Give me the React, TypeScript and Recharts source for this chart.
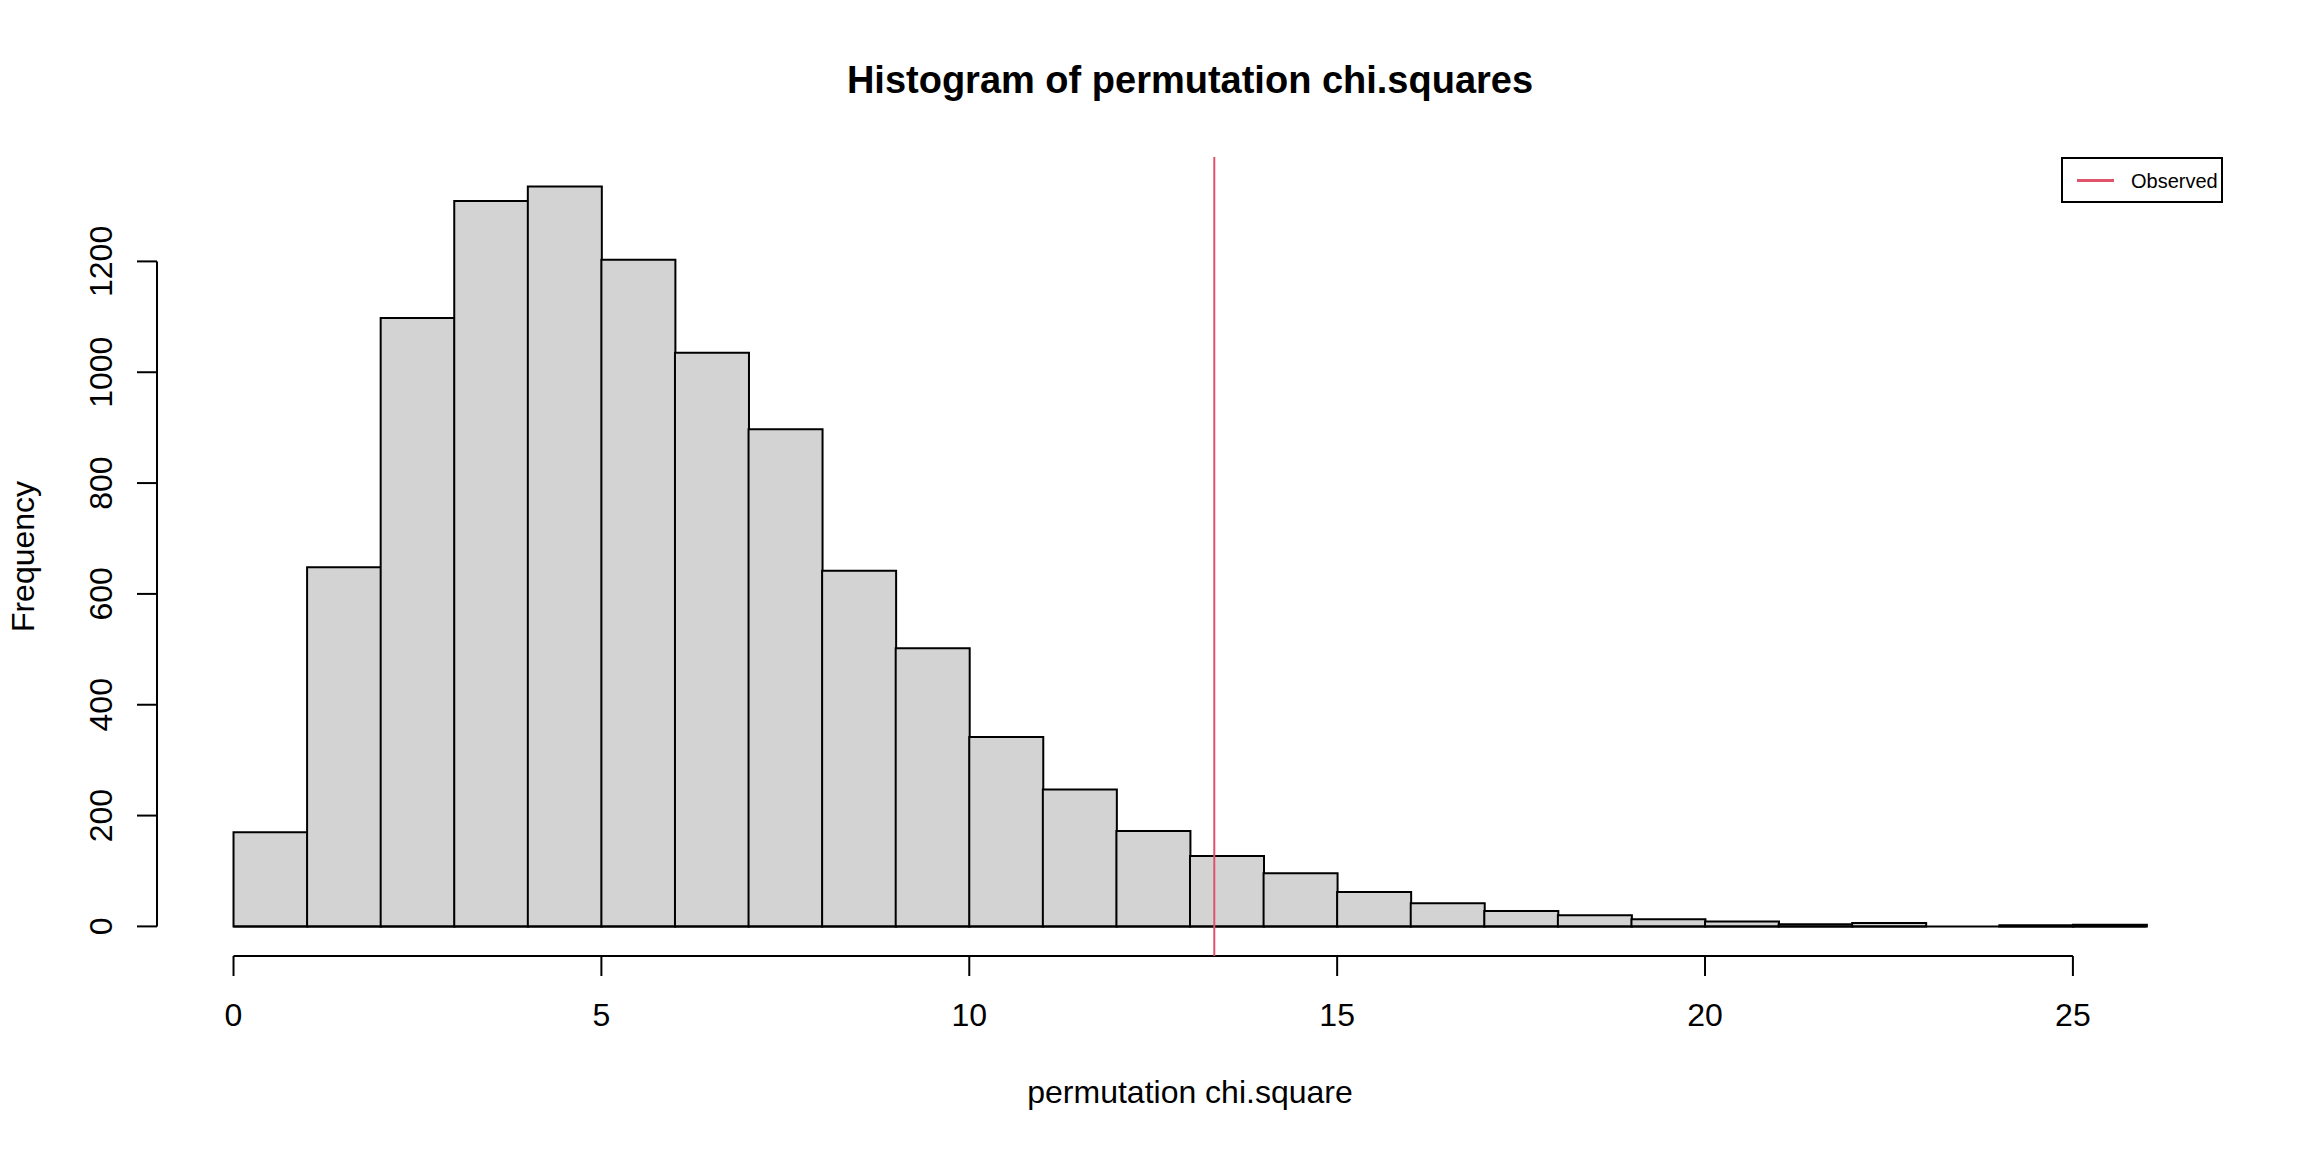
import React from "react";
import { ComposedChart, Bar, XAxis, YAxis, ReferenceLine, Label } from "recharts";

// histogram bins (edges) and counts
const binEdges = [0, 1, 2, 3, 4, 5, 6, 7, 8, 9, 10, 11, 12, 13, 14, 15, 16, 17, 18, 19, 20, 21, 22, 23, 24, 25, 26];
const counts = [170, 648, 1098, 1309, 1335, 1203, 1035, 897, 642, 502, 342, 247, 172, 127, 96, 62, 42, 28, 20, 13, 9, 4, 6, 0, 2, 3];
const xTicks = [0, 5, 10, 15, 20, 25];
const yTicks = [0, 200, 400, 600, 800, 1000, 1200];
const observed = 13.33;

const FONT = "'Liberation Sans', Arial, Helvetica, sans-serif";

const data = counts.map((c, i) => ({
    mid: (binEdges[i] + binEdges[i + 1]) / 2,
    count: c,
}));

// R style 4% axis extension
const xMin = binEdges[0];
const xMax = binEdges[binEdges.length - 1];
const xPad = (xMax - xMin) * 0.04;
const yMax = Math.max(...counts);
const yPad = yMax * 0.04;

const YTick = (props: any) => {
    const { x, y, payload } = props;
    const bx = x - 25;
    return (
        <text
            x={bx}
            y={y}
            transform={`rotate(-90, ${bx}, ${y})`}
            textAnchor="middle"
            fontSize={32}
            fontFamily={FONT}
            fill="#000"
        >
            {payload.value}
        </text>
    );
};

const App: React.FC = () => {
    return (
        <div style={{ position: "fixed", left: 0, top: 0, width: 2304, height: 1152, background: "#fff" }}>
            <div
                style={{
                    position: "absolute",
                    left: 1190,
                    top: 61,
                    transform: "translateX(-50%)",
                    whiteSpace: "nowrap",
                    fontFamily: FONT,
                    fontWeight: "bold",
                    fontSize: 38,
                    lineHeight: "38px",
                    color: "#000",
                }}
            >
                Histogram of permutation chi.squares
            </div>

            <ComposedChart
                width={2304}
                height={1152}
                data={data}
                margin={{ top: 157, right: 81, bottom: 0, left: 0 }}
                barCategoryGap={0}
                barGap={0}
            >
                <XAxis
                    dataKey="mid"
                    type="number"
                    domain={[xMin - xPad, xMax + xPad]}
                    ticks={xTicks}
                    interval={0}
                    height={196}
                    axisLine={false}
                    tickLine={{ stroke: "#000", strokeWidth: 2 }}
                    tickSize={20}
                    tickMargin={27}
                    tick={{ fontSize: 32, fill: "#000", fontFamily: FONT }}
                >
                    <Label
                        content={(p: any) => {
                            const vb = p.viewBox;
                            return (
                                <text
                                    x={vb.x + vb.width / 2}
                                    y={vb.y + 147}
                                    textAnchor="middle"
                                    fontSize={32}
                                    fontFamily={FONT}
                                    fill="#000"
                                >
                                    permutation chi.square
                                </text>
                            );
                        }}
                    />
                </XAxis>
                <YAxis
                    type="number"
                    domain={[-yPad, yMax + yPad]}
                    ticks={yTicks}
                    interval={0}
                    width={157}
                    axisLine={false}
                    tickLine={{ stroke: "#000", strokeWidth: 2 }}
                    tickSize={20}
                    tickMargin={0}
                    tick={<YTick />}
                >
                    <Label
                        content={(p: any) => {
                            const vb = p.viewBox;
                            const cy = vb.y + vb.height / 2;
                            return (
                                <text
                                    x={34}
                                    y={cy}
                                    transform={`rotate(-90, 34, ${cy})`}
                                    textAnchor="middle"
                                    fontSize={32}
                                    fontFamily={FONT}
                                    fill="#000"
                                >
                                    Frequency
                                </text>
                            );
                        }}
                    />
                </YAxis>

                <Bar
                    dataKey="count"
                    fill="#d3d3d3"
                    stroke="#000"
                    strokeWidth={2}
                    isAnimationActive={false}
                />

                {/* bar bottoms */}
                <ReferenceLine
                    segment={[{ x: xMin, y: 0 }, { x: xMax, y: 0 }]}
                    stroke="#000"
                    strokeWidth={2}
                    ifOverflow="visible"
                />
                {/* R-style axis lines spanning first to last tick */}
                <ReferenceLine
                    segment={[{ x: xTicks[0], y: -yPad }, { x: xTicks[xTicks.length - 1], y: -yPad }]}
                    stroke="#000"
                    strokeWidth={2}
                    ifOverflow="visible"
                />
                <ReferenceLine
                    segment={[{ x: xMin - xPad, y: yTicks[0] }, { x: xMin - xPad, y: yTicks[yTicks.length - 1] }]}
                    stroke="#000"
                    strokeWidth={2}
                    ifOverflow="visible"
                />

                <ReferenceLine x={observed} stroke="#DF536B" strokeWidth={2} ifOverflow="visible" />
            </ComposedChart>

            <div
                style={{
                    position: "absolute",
                    left: 2061,
                    top: 157,
                    width: 162,
                    height: 46,
                    boxSizing: "border-box",
                    border: "2px solid #000",
                    background: "#fff",
                }}
            >
                <span
                    style={{
                        position: "absolute",
                        left: 14,
                        top: 20,
                        width: 37,
                        height: 3,
                        background: "#DF536B",
                    }}
                />
                <span
                    style={{
                        position: "absolute",
                        left: 68,
                        top: 12,
                        fontFamily: FONT,
                        fontSize: 20,
                        lineHeight: "20px",
                        color: "#000",
                        whiteSpace: "nowrap",
                    }}
                >
                    Observed
                </span>
            </div>
        </div>
    );
};

export default App;
